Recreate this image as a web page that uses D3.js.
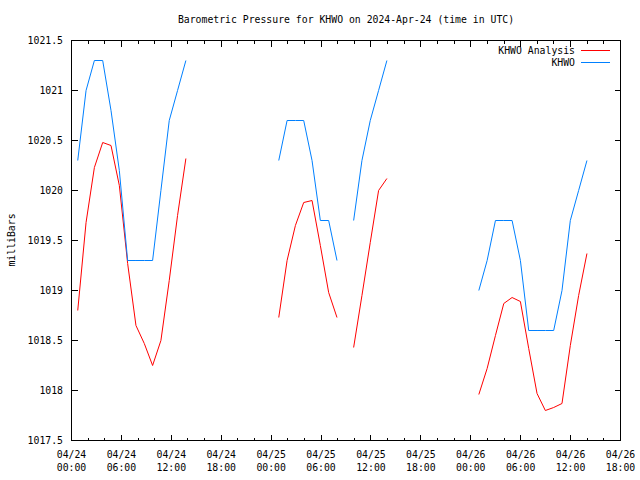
<!DOCTYPE html>
<head>
    <title>Barometric Pressure KHWO</title>
    <script src="https://cdnjs.cloudflare.com/ajax/libs/d3/7.8.5/d3.min.js"></script>
    <style>
    body {
        margin:0;
        background:white;
    }
    svg text {
        font-family:'DejaVu Sans Mono', monospace;
        font-size:9.8px;
        fill:black;
    }
    </style>
</head>
<body>
<div id='chart'></div>
<script>
// observation times, one list per stretch of data (gaps between them)
var times1 = ['2024-04-24 00:45','2024-04-24 01:45','2024-04-24 02:45','2024-04-24 03:45','2024-04-24 04:45',
              '2024-04-24 05:45','2024-04-24 06:45','2024-04-24 07:45','2024-04-24 08:45','2024-04-24 09:45',
              '2024-04-24 10:45','2024-04-24 11:45','2024-04-24 12:45','2024-04-24 13:45'];
var times2 = ['2024-04-25 00:55','2024-04-25 01:55','2024-04-25 02:55','2024-04-25 03:55',
              '2024-04-25 04:55','2024-04-25 05:55','2024-04-25 06:55','2024-04-25 07:55'];
var times3 = ['2024-04-25 09:55','2024-04-25 10:55','2024-04-25 11:55','2024-04-25 12:55','2024-04-25 13:55'];
var times4 = ['2024-04-26 00:58','2024-04-26 01:58','2024-04-26 02:58','2024-04-26 03:58','2024-04-26 04:58',
              '2024-04-26 05:58','2024-04-26 06:58','2024-04-26 07:58','2024-04-26 08:58','2024-04-26 09:58',
              '2024-04-26 10:58','2024-04-26 11:58','2024-04-26 12:58','2024-04-26 13:58'];

// KHWO observed
var khwo1 = [1020.3,1021.0,1021.3,1021.3,1020.8,1020.2,1019.3,1019.3,1019.3,1019.3,1020.0,1020.7,1021.0,1021.3];
var khwo2 = [1020.3,1020.7,1020.7,1020.7,1020.3,1019.7,1019.7,1019.3];
var khwo3 = [1019.7,1020.3,1020.7,1021.0,1021.3];
var khwo4 = [1019.0,1019.3,1019.7,1019.7,1019.7,1019.3,1018.6,1018.6,1018.6,1018.6,1019.0,1019.7,1020.0,1020.3];

// KHWO analysis
var anal1 = [1018.80,1019.68,1020.23,1020.48,1020.45,1020.05,1019.27,1018.65,1018.47,1018.25,1018.50,1019.10,1019.75,1020.32];
var anal2 = [1018.73,1019.30,1019.65,1019.88,1019.90,1019.45,1018.98,1018.73];
var anal3 = [1018.43,1018.95,1019.48,1020.00,1020.12];
var anal4 = [1017.96,1018.22,1018.55,1018.87,1018.93,1018.89,1018.42,1017.97,1017.80,1017.83,1017.87,1018.45,1018.95,1019.37];

var yTicks = [1017.5,1018,1018.5,1019,1019.5,1020,1020.5,1021,1021.5];
var xStart = '2024-04-24 00:00';
var xEnd = '2024-04-26 18:00';

var parse = d3.utcParse('%Y-%m-%d %H:%M');

var svg = d3.select('#chart')
    .append('svg')
    .attr('width',640)
    .attr('height',480);

// plot box (half pixels so 1px lines stay sharp)
var pLeft = 71.5, pRight = 620.5, pTop = 40.5, pBottom = 440.5;

var x = d3.scaleUtc()
    .domain([parse(xStart), parse(xEnd)])
    .range([pLeft, pRight]);
var y = d3.scaleLinear()
    .domain([1017.5, 1021.5])
    .range([pBottom, pTop]);

var majorTicks = d3.utcHour.every(6).range(parse(xStart), d3.utcMinute.offset(parse(xEnd), 1));
var minorTicks = d3.utcHour.every(2).range(parse(xStart), d3.utcMinute.offset(parse(xEnd), 1));

// ticks, mirrored on all four sides
var ticks = svg.append('g').attr('stroke','black').attr('shape-rendering','crispEdges');
minorTicks.forEach(function(t) {
    ticks.append('line').attr('x1',x(t)).attr('x2',x(t)).attr('y1',pBottom).attr('y2',pBottom-3);
    ticks.append('line').attr('x1',x(t)).attr('x2',x(t)).attr('y1',pTop).attr('y2',pTop+3);
});
majorTicks.forEach(function(t) {
    ticks.append('line').attr('x1',x(t)).attr('x2',x(t)).attr('y1',pBottom).attr('y2',pBottom-6);
    ticks.append('line').attr('x1',x(t)).attr('x2',x(t)).attr('y1',pTop).attr('y2',pTop+6);
});
yTicks.forEach(function(v) {
    ticks.append('line').attr('x1',pLeft).attr('x2',pLeft+6).attr('y1',y(v)).attr('y2',y(v));
    ticks.append('line').attr('x1',pRight).attr('x2',pRight-6).attr('y1',y(v)).attr('y2',y(v));
});

// frame
svg.append('rect')
    .attr('x',pLeft).attr('y',pTop)
    .attr('width',pRight-pLeft).attr('height',pBottom-pTop)
    .attr('fill','none').attr('stroke','black')
    .attr('shape-rendering','crispEdges');

// y labels
svg.selectAll('.ylab')
    .data(yTicks)
    .enter().append('text')
    .attr('class','ylab')
    .attr('x',63)
    .attr('y',function(d) { return y(d); })
    .attr('dy','0.35em')
    .attr('text-anchor','end')
    .text(function(d) { return d; });

// x labels, date over time
var fmtDay = d3.utcFormat('%m/%d');
var fmtHour = d3.utcFormat('%H:%M');
svg.selectAll('.xlab')
    .data(majorTicks)
    .enter().append('text')
    .attr('class','xlab')
    .attr('x',function(d) { return x(d); })
    .attr('y',458)
    .attr('text-anchor','middle')
    .text(function(d) { return fmtDay(d); });
svg.selectAll('.xlab2')
    .data(majorTicks)
    .enter().append('text')
    .attr('class','xlab2')
    .attr('x',function(d) { return x(d); })
    .attr('y',471)
    .attr('text-anchor','middle')
    .text(function(d) { return fmtHour(d); });

// title and axis name
svg.append('text')
    .attr('x',(pLeft+pRight)/2)
    .attr('y',23)
    .attr('text-anchor','middle')
    .text('Barometric Pressure for KHWO on 2024-Apr-24 (time in UTC)');
svg.append('text')
    .attr('transform','translate(15,240) rotate(-90)')
    .attr('text-anchor','middle')
    .text('milliBars');

// the lines
var line = d3.line()
    .x(function(d) { return x(d[0]); })
    .y(function(d) { return y(d[1]); });

function pairs(times, vals) {
    return times.map(function(t, i) { return [parse(t), vals[i]]; });
}

var analysis = [pairs(times1,anal1), pairs(times2,anal2), pairs(times3,anal3), pairs(times4,anal4)];
var observed = [pairs(times1,khwo1), pairs(times2,khwo2), pairs(times3,khwo3), pairs(times4,khwo4)];

analysis.forEach(function(seg) {
    svg.append('path').datum(seg).attr('d',line)
        .attr('fill','none').attr('stroke','#ff0000').attr('stroke-width',1);
});
observed.forEach(function(seg) {
    svg.append('path').datum(seg).attr('d',line)
        .attr('fill','none').attr('stroke','#0080ff').attr('stroke-width',1);
});

// legend
var legend = [['KHWO Analysis','#ff0000'],['KHWO','#0080ff']];
legend.forEach(function(l, i) {
    var ly = 50.5 + i*12;
    svg.append('text').attr('x',575).attr('y',ly).attr('dy','0.35em')
        .attr('text-anchor','end').text(l[0]);
    svg.append('line').attr('x1',581).attr('x2',610).attr('y1',ly).attr('y2',ly)
        .attr('stroke',l[1]).attr('shape-rendering','crispEdges');
});
</script>
</body>
</html>
